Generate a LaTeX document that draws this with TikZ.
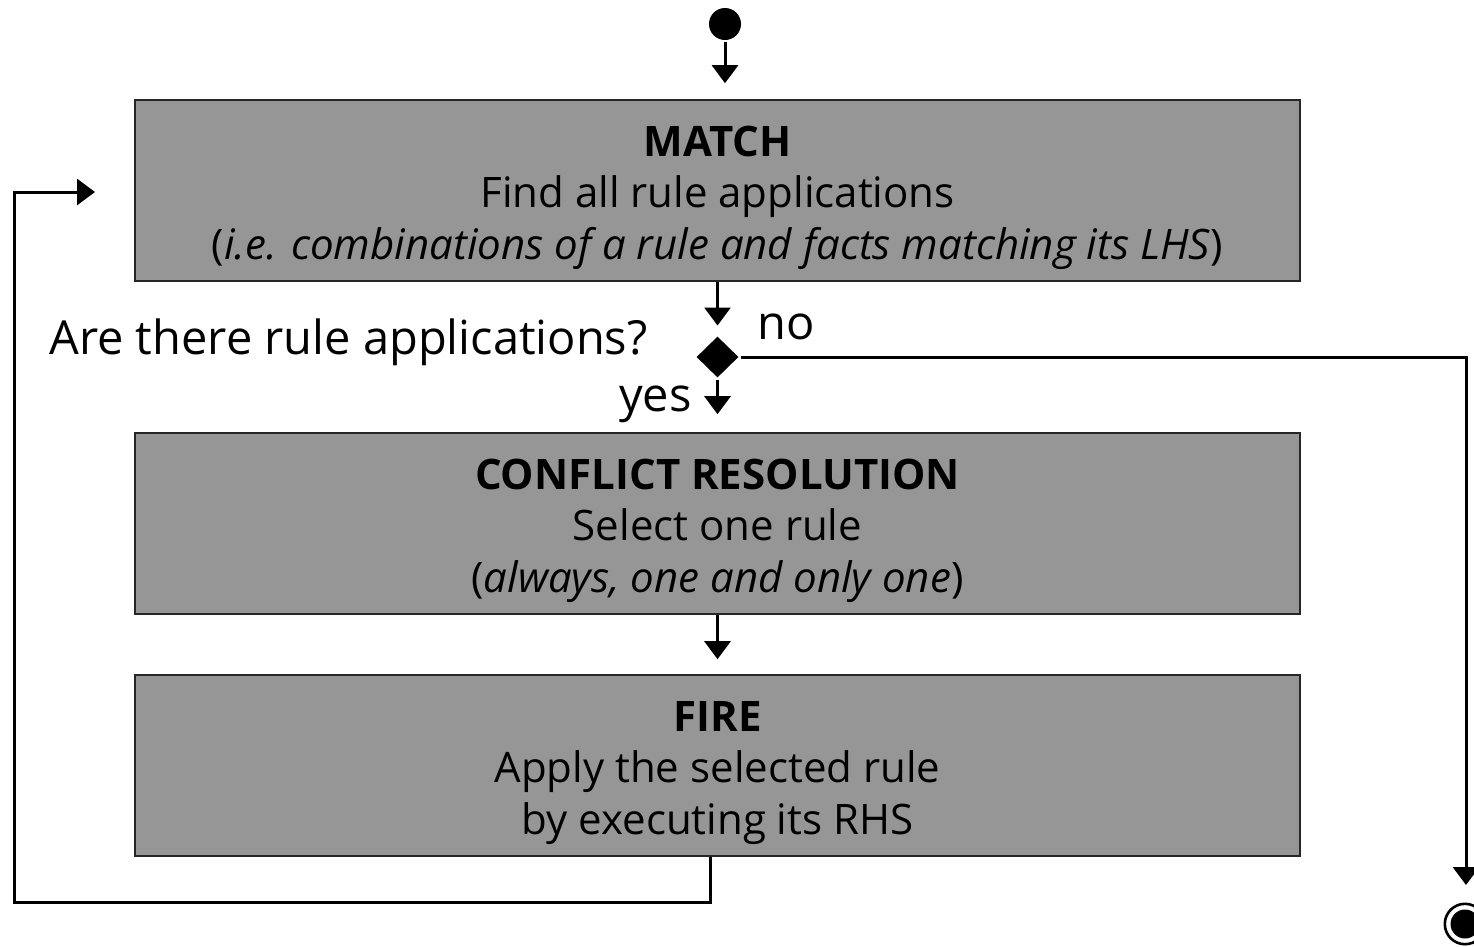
\documentclass[tikz,border=0pt]{standalone}
\usepackage{fontspec}
\setmainfont{Open Sans}
\usepackage{xcolor}
\usepackage{tikz}
\usetikzlibrary{shapes.geometric, arrows.meta, positioning, calc}
\definecolor{boxgray}{RGB}{150,150,150}
\newcommand{\stagestrut}{\rule{0pt}{45pt}}
\tikzset{
    stage/.style={
        rectangle,
        draw=black!85,
        line width=1.6pt,
        fill=boxgray,
        minimum width=1165pt,
        minimum height=181pt,
        inner sep=0pt,
        align=center,
        font=\fontsize{42}{51.5}\selectfont,
    },
    initstate/.style={
        circle,
        fill=black,
        minimum size=32pt,
        inner sep=0pt,
    },
    decision/.style={
        diamond,
        fill=black,
        minimum width=43pt,
        minimum height=42pt,
        inner sep=0pt,
    },
    endstate/.style={
        circle,
        fill=black,
        minimum size=29pt,
        inner sep=0pt,
    },
    guard/.style={
        font=\fontsize{47}{52}\selectfont,
        inner sep=0pt,
    },
}

\begin{document}
\begin{tikzpicture}[x=1pt, y=-1pt, line width=3pt,
    >={Triangle[width=26pt,length=18pt]}]
      \useasboundingbox (0,0) rectangle (1474,946);

      \node[initstate] (start) at (725,24) {};

      \node[stage] (match) at (717.5,190.5)
        {\stagestrut\textbf{MATCH}\\Find all rule applications\\(\textit{i.e. combinations of a rule and facts matching its LHS})};

      \node[decision] (choice) at (717.5,357) {};

      \node[stage] (conflict) at (717.5,523.5)
        {\stagestrut\textbf{CONFLICT RESOLUTION}\\Select one rule\\(\textit{always, one and only one})};

      \node[stage] (fire) at (717.5,765.5)
        {\stagestrut\textbf{FIRE}\\Apply the selected rule\\by executing its RHS};

      \node[endstate] (final) at (1465,924) {};
      \draw[line width=2.6pt] (final.center) circle (20.2pt);

      \node[guard, anchor=east] (question) at (649,342) {Are there rule applications?};
      \node[guard] (no) at (786,327) {no};
      \node[guard, anchor=east] (yes) at (693,404) {yes};

      \coordinate (endin) at (1466,885);
      \coordinate (back) at (95,192);

      \draw[->, shorten >=16pt] (start) -- (start |- match.north);
      \draw[->, shorten >=9pt] (match) -- (choice.north);
      \draw[->] (choice.east) -| (endin);
      \draw[->, shorten >=18pt] (choice.south) -- (conflict.north);
      \draw[->, shorten >=15pt] (conflict.south) -- (fire.north);
      \draw[->] ([xshift=-7.5pt]fire.south) |- (14,902) |- (back);

    \end{tikzpicture}
\end{document}
